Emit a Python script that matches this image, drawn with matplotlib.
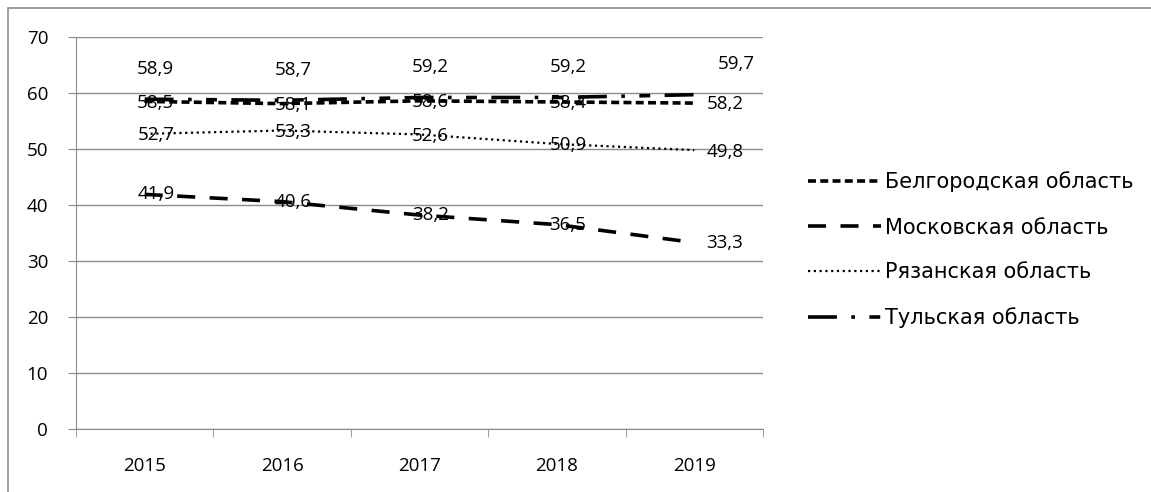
import matplotlib
matplotlib.use('Agg')
from matplotlib import pyplot as plt
from matplotlib.patches import Rectangle

plt.rcParams['font.family'] = ['Open Sans', 'DejaVu Sans']

years = ['2015', '2016', '2017', '2018', '2019']
belgorod = [58.5, 58.1, 58.6, 58.4, 58.2]
moscow = [41.9, 40.6, 38.2, 36.5, 33.3]
ryazan = [52.7, 53.3, 52.6, 50.9, 49.8]
tula = [58.9, 58.7, 59.2, 59.2, 59.7]

fig = plt.figure(figsize=(11.51, 4.92), dpi=100)
ax = fig.add_axes([76 / 1151, 1 - 429 / 492, 687 / 1151, 392 / 492])

x = list(range(len(years)))
grid_c = '#8c8c8c'

l1, = ax.plot(x, belgorod, color='black', lw=2.6, dashes=(2.2, 1.2), label='Белгородская область')
l2, = ax.plot(x, moscow, color='black', lw=2.6, dashes=(5, 4), label='Московская область')
l3, = ax.plot(x, ryazan, color='black', lw=1.6, dashes=(1, 1.6), label='Рязанская область')
l4, = ax.plot(x, tula, color='black', lw=2.6, dashes=(8, 4, 1, 4, 3, 4), label='Тульская область')

fs = 13.5
for i in x:
    dx = 8 if i < 4 else 22
    ax.annotate(str(belgorod[i]).replace('.', ','), (i, belgorod[i]), xytext=(dx, -1),
                textcoords='offset points', ha='center', va='center', fontsize=fs)
    ax.annotate(str(moscow[i]).replace('.', ','), (i, moscow[i]), xytext=(dx, 0),
                textcoords='offset points', ha='center', va='center', fontsize=fs)
    ax.annotate(str(ryazan[i]).replace('.', ','), (i, ryazan[i]), xytext=(dx, -1),
                textcoords='offset points', ha='center', va='center', fontsize=fs)
    ax.annotate(str(tula[i]).replace('.', ','), (i, tula[i]), xytext=(8 if i < 4 else 30, 22),
                textcoords='offset points', ha='center', va='center', fontsize=fs)

ax.set_xlim(-0.5, 4.5)
ax.set_ylim(0, 70)
ax.set_yticks(range(0, 71, 10))
ax.set_xticks(x)
ax.set_xticklabels(years, fontsize=fs)
ax.set_xticks([i - 0.5 for i in range(6)], minor=True)
ax.tick_params(axis='x', which='major', length=0, pad=20)
ax.tick_params(axis='x', which='minor', length=6, color=grid_c, direction='out')
ax.tick_params(axis='y', length=6, color=grid_c, labelsize=fs, pad=14)
ax.grid(axis='y', color=grid_c, lw=1)
ax.set_axisbelow(True)
for s in ['top', 'right']:
    ax.spines[s].set_visible(False)
for s in ['left', 'bottom']:
    ax.spines[s].set_color(grid_c)

fig.legend(handles=[l1, l2, l3, l4], loc='center left', bbox_to_anchor=(800 / 1151, 1 - 250 / 492),
           frameon=False, prop={'family': ['DejaVu Sans'], 'size': 15}, handlelength=3.5,
           handletextpad=0.2, labelspacing=1.2, borderaxespad=0)

fig.patches.append(Rectangle((8 / 1151, -0.1), 1.2, 1 - 8 / 492 + 0.1, transform=fig.transFigure,
                             fill=False, edgecolor=grid_c, lw=1.2))

fig.savefig('out.png', dpi=100)
